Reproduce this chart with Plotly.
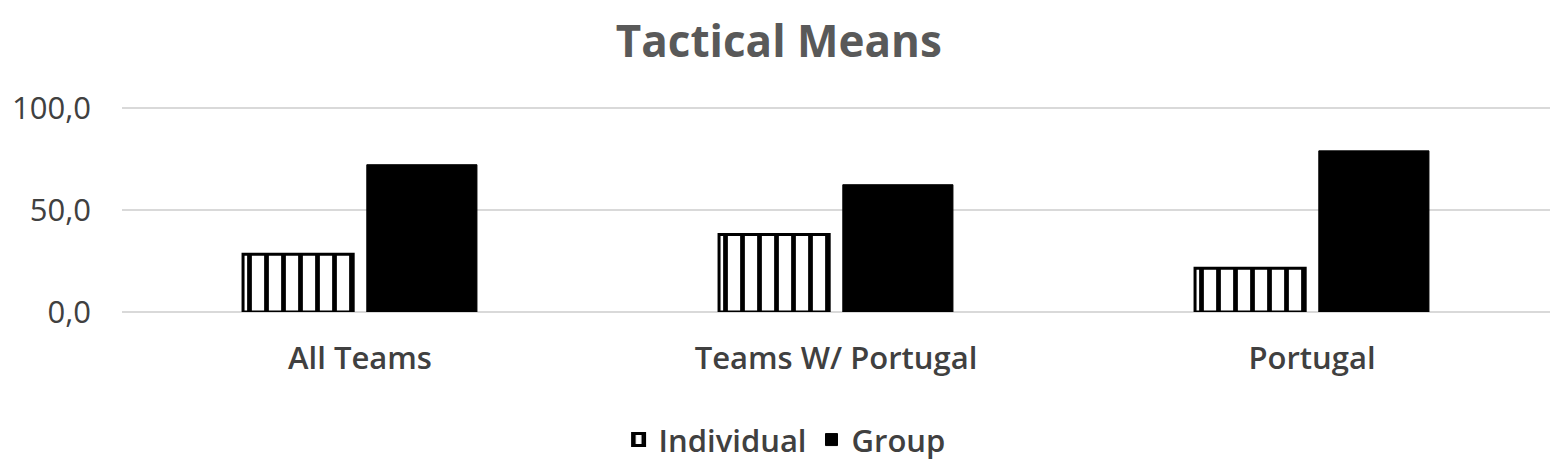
"""Tactical means grouped bar chart."""

import plotly.graph_objects as go

CATEGORIES = ["All Teams", "Teams W/ Portugal", "Portugal"]
INDIVIDUAL = [28.3, 38.0, 21.5]
GROUP = [72.2, 62.4, 79.0]
Y_TICKS = [0, 50, 100]

FONT = "'Open Sans', sans-serif"
TEXT_COLOR = "#404040"
GRID_COLOR = "#d9d9d9"

# page body has an 8px margin, so the figure is a little smaller than the window
fig = go.Figure()
fig.add_trace(
    go.Bar(
        x=CATEGORIES,
        y=INDIVIDUAL,
        name="Individual",
        marker=dict(
            color="white",
            line=dict(color="black", width=3),
            pattern=dict(shape="|", fgcolor="black", bgcolor="white", size=17, solidity=0.28, fillmode="replace"),
        ),
    )
)
fig.add_trace(
    go.Bar(
        x=CATEGORIES,
        y=GROUP,
        name="Group",
        marker=dict(color="black", line=dict(color="black", width=1)),
    )
)

fig.update_layout(
    title=dict(
        text="<b>Tactical Means</b>",
        x=0.497,
        xanchor="center",
        y=0.926,
        yanchor="middle",
        font=dict(family=FONT, size=44, color="#595959"),
        automargin=False,
    ),
    barmode="group",
    bargap=0.48,
    bargroupgap=0.11,
    paper_bgcolor="white",
    plot_bgcolor="white",
    width=1551,
    height=458,
    margin=dict(l=114, r=9, t=99, b=154, autoexpand=False),
    separators=",.",
    font=dict(family=FONT, color=TEXT_COLOR),
    showlegend=True,
    legend=dict(
        orientation="h",
        x=0.464,
        xanchor="center",
        y=-0.624,
        yanchor="middle",
        font=dict(size=31, color=TEXT_COLOR, weight=600),
        itemwidth=30,
    ),
)
fig.update_xaxes(
    showgrid=False,
    showline=False,
    ticks="",
    automargin=False,
    tickfont=dict(size=31, color=TEXT_COLOR, family=FONT, weight=600),
    ticklabelstandoff=25,
)
fig.update_yaxes(
    range=[0, 100.5],
    tickvals=Y_TICKS,
    tickformat=".1f",
    showgrid=True,
    gridcolor=GRID_COLOR,
    gridwidth=2,
    zeroline=True,
    zerolinecolor=GRID_COLOR,
    zerolinewidth=2,
    showline=False,
    ticks="",
    automargin=False,
    ticklabelstandoff=30,
    tickfont=dict(size=31, color=TEXT_COLOR, family=FONT),
)

fig.write_html("out.html")
